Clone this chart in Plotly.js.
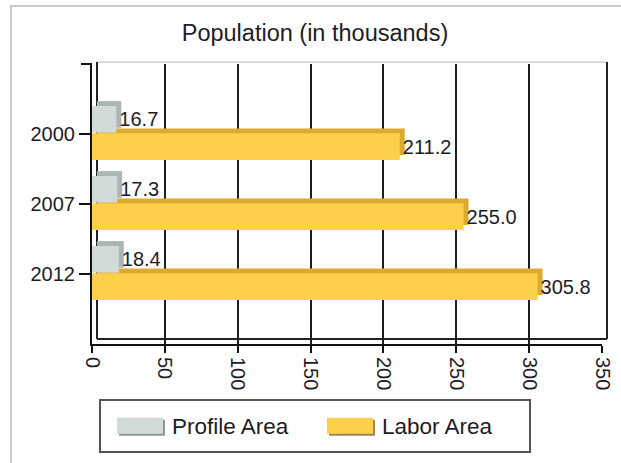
<!DOCTYPE html>
<html>
<head>
<meta charset="utf-8">
<script src="https://cdn.plot.ly/plotly-3.0.1.min.js"></script>
<style>
  html, body { margin: 0; padding: 0; background: #ffffff; }
  #chart { width: 621px; height: 463px; }
</style>
</head>
<body>
<div id="chart"></div>
<script>
// ---- Data ----
const years = ['2000', '2007', '2012'];
const seriesNames = ['Profile Area', 'Labor Area'];
const profileValues = [16.7, 17.3, 18.4];
const laborValues = [211.2, 255.0, 305.8];
const xTickValues = [0, 50, 100, 150, 200, 250, 300, 350];
const chartTitle = 'Population (in thousands)';

// ---- Styling ----
const FONT = '"Liberation Sans", Arial, sans-serif';
const TXT = '#1c1c28';
const profileFront = '#d2dbda';
const profileSide = '#aab6b4';
const laborFront = '#fdd04b';
const laborSide = '#dcaa2c';
const depthX = 3.4;     // 3D depth in value units
const depthY = 0.07;    // 3D depth in category units
const barW = 0.38;

function shadowTrace(values, color, offset) {
  return {
    type: 'bar', orientation: 'h', y: years, x: values,
    base: depthX, width: barW, offset: offset - depthY,
    marker: { color: color, line: { width: 0 } },
    showlegend: false, hoverinfo: 'skip'
  };
}
function frontTrace(values, name, color, offset) {
  return {
    type: 'bar', orientation: 'h', y: years, x: values, name: name,
    width: barW, offset: offset,
    marker: { color: color, line: { width: 0 } },
    text: values.map(v => v.toFixed(1)),
    textposition: 'outside', cliponaxis: false, constraintext: 'none',
    textfont: { family: FONT, size: 20, color: TXT }
  };
}

const data = [
  shadowTrace(profileValues, profileSide, -0.40),
  shadowTrace(laborValues, laborSide, -0.01),
  frontTrace(profileValues, seriesNames[0], profileFront, -0.40),
  frontTrace(laborValues, seriesNames[1], laborFront, -0.01)
];

const PX = 510, PY = 280, L = 92, T = 64;  // plot-area size for paper-coordinate decorations
const layout = {
  width: 621, height: 463,
  paper_bgcolor: '#ffffff', plot_bgcolor: '#ffffff',
  margin: { l: L, r: 19, t: T, b: 119 },
  barmode: 'overlay',
  font: { family: FONT, size: 20, color: TXT },
  title: {
    text: chartTitle,
    font: { family: FONT, size: 23.5, color: TXT },
    x: 315 / 621, xref: 'container', xanchor: 'center',
    y: 1 - 33 / 463, yref: 'container', yanchor: 'middle'
  },
  xaxis: {
    range: [0, 350], tickvals: xTickValues, tickangle: 90,
    showgrid: true, gridcolor: '#1e1e1e', gridwidth: 2,
    zeroline: false, showline: true, linecolor: '#111', linewidth: 2,
    ticks: 'outside', ticklen: 7, tickwidth: 2, tickcolor: '#111',
    tickfont: { family: FONT, size: 20, color: TXT },
    fixedrange: true
  },
  yaxis: {
    type: 'category', categoryorder: 'array', categoryarray: years,
    range: [3, -1],
    showgrid: false, zeroline: false,
    showline: true, linecolor: '#111', linewidth: 2,
    ticks: 'outside', ticklen: 11, tickwidth: 2, tickcolor: '#111',
    ticklabelstandoff: 0,
    tickfont: { family: FONT, size: 20, color: TXT },
    fixedrange: true
  },
  legend: {
    orientation: 'h',
    xref: 'container', x: 112 / 621, xanchor: 'left',
    yref: 'container', y: 1 - 426 / 463, yanchor: 'middle',
    borderwidth: 0, bgcolor: 'rgba(0,0,0,0)',
    font: { family: FONT, size: 22.5, color: TXT },
    itemsizing: 'constant', tracegroupgap: 0, itemwidth: 50,
    entrywidth: 145, entrywidthmode: 'pixels'
  },
  shapes: [
    // outer frame of the image
    { type: 'rect', xref: 'paper', yref: 'paper',
      x0: (11 - L) / PX, x1: (640 - L) / PX,
      y0: -(480 - 344) / PY, y1: 1 + (T - 6) / PY,
      line: { color: '#cccccc', width: 2 }, fillcolor: 'rgba(0,0,0,0)', layer: 'below' },
    // legend frame
    { type: 'rect', xref: 'paper', yref: 'paper',
      x0: (100 - L) / PX, x1: (530 - L) / PX,
      y0: -(452 - 344) / PY, y1: -(400 - 344) / PY,
      line: { color: '#555555', width: 2 }, fillcolor: 'rgba(0,0,0,0)', layer: 'below' },
    // back wall top edge
    { type: 'line', xref: 'paper', yref: 'paper',
      x0: 5 / PX, x1: 1 + 5 / PX, y0: 1 + 2 / PY, y1: 1 + 2 / PY,
      line: { color: '#dddddd', width: 2 }, layer: 'below' },
    // back wall left edge
    { type: 'line', xref: 'paper', yref: 'paper',
      x0: 5 / PX, x1: 5 / PX, y0: 5 / PY, y1: 1 + 2 / PY,
      line: { color: '#222', width: 2 }, layer: 'below' },
    // back wall bottom edge
    { type: 'line', xref: 'paper', yref: 'paper',
      x0: 5 / PX, x1: 1 + 5 / PX, y0: 5 / PY, y1: 5 / PY,
      line: { color: '#222', width: 2 }, layer: 'below' },
    // back wall right edge
    { type: 'line', xref: 'paper', yref: 'paper',
      x0: 1 + 5 / PX, x1: 1 + 5 / PX, y0: 5 / PY, y1: 1 + 2 / PY,
      line: { color: '#222', width: 2 }, layer: 'below' },
    // top tick of the value frame
    { type: 'line', xref: 'paper', yref: 'paper',
      x0: -11 / PX, x1: 0, y0: 1, y1: 1,
      line: { color: '#111', width: 2 } }
  ]
};

Plotly.newPlot('chart', data, layout, { displayModeBar: false, staticPlot: true }).then(function (gd) {
  // widen the legend swatches into 3D-looking tiles like the original
  const shades = ['#8f9897', '#9a8a5a'];
  gd.querySelectorAll('.legend .traces').forEach(function (tr, i) {
    const p = tr.querySelector('.legendpoints path');
    if (!p) return;
    const sh = p.cloneNode();
    sh.setAttribute('d', 'M-23,-6H23V10H-23Z');
    sh.style.fill = shades[i];
    p.parentNode.insertBefore(sh, p);
    p.setAttribute('d', 'M-25,-8H21V8H-25Z');
  });
});
</script>
</body>
</html>
